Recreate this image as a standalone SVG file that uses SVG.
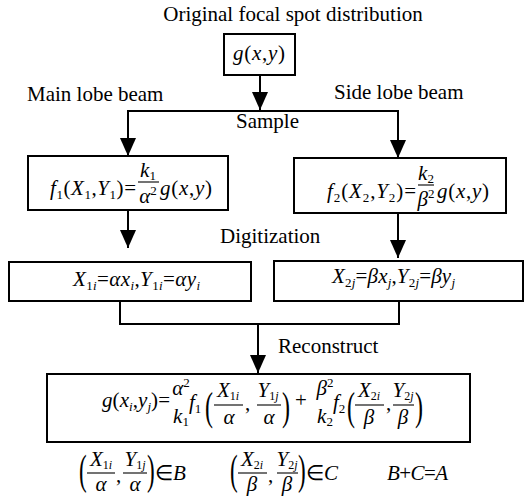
<svg xmlns="http://www.w3.org/2000/svg" width="526" height="499" viewBox="0 0 526 499" font-family="'Liberation Serif', 'Times New Roman', serif">
<style>
text{font-family:"Liberation Serif","Times New Roman",serif;fill:#000}
.lbl{font-size:21px}
.mi{font-size:21px;font-style:italic}
.u{font-style:normal}
.sb{font-size:13px}
.sf{font-size:12px}
.box{fill:#fff;stroke:#000;stroke-width:2}
.ln{fill:none;stroke:#000;stroke-width:2}
.bar{stroke:#000;stroke-width:1.1}
.mid{text-anchor:middle}
</style>
<defs>
<marker id="arr" markerUnits="userSpaceOnUse" markerWidth="18" markerHeight="16" refX="18" refY="8" orient="auto" viewBox="0 0 18 16">
<path d="M0,0 L18,8 L0,16 z" fill="#000"/>
</marker>
</defs>

<g id="labels">
<text class="lbl mid" x="293" y="21">Original focal spot distribution</text>
<text class="lbl" x="27" y="101">Main lobe beam</text>
<text class="lbl" x="334" y="99">Side lobe beam</text>
<text class="lbl" x="236" y="128">Sample</text>
<text class="lbl" x="220" y="243">Digitization</text>
<text class="lbl" x="278" y="353">Reconstruct</text>
</g>

<g id="connectors">
<line class="ln" x1="260" y1="75" x2="260" y2="110" marker-end="url(#arr)"/>
<polyline class="ln" points="128,156 128,111 398,111 398,158"/>
<line class="ln" x1="128" y1="120" x2="128" y2="156" marker-end="url(#arr)"/>
<line class="ln" x1="398" y1="120" x2="398" y2="158" marker-end="url(#arr)"/>
<line class="ln" x1="128" y1="210" x2="128" y2="248" marker-end="url(#arr)"/>
<line class="ln" x1="398" y1="213" x2="398" y2="258" marker-end="url(#arr)"/>
<polyline class="ln" points="120,301 120,324 399,324 399,301"/>
<line class="ln" x1="258" y1="324" x2="258" y2="373" marker-end="url(#arr)"/>
</g>

<g id="node-g">
<rect class="box" x="224" y="34" width="71" height="41"/>
<text class="mi" x="233" y="60" textLength="52">g<tspan class="u">(</tspan>x<tspan class="u">,</tspan>y<tspan class="u">)</tspan></text>
</g>

<g id="node-f1">
<rect class="box" x="28" y="156" width="200" height="54"/>
<text class="mi" x="50" y="195" textLength="86">f<tspan class="u sb" dy="4">1</tspan><tspan class="u" dy="-4">(</tspan>X<tspan class="u sb" dy="4">1</tspan><tspan class="u" dy="-4">,</tspan>Y<tspan class="u sb" dy="4">1</tspan><tspan class="u" dy="-4">)=</tspan></text>
<text class="mi mid" x="148" y="177">k<tspan class="u sb" dy="3">1</tspan></text>
<line class="bar" x1="138" y1="182" x2="159" y2="182"/>
<text class="mi mid" x="148" y="203">α<tspan class="u sb" dy="-8">2</tspan></text>
<text class="mi" x="160" y="195" textLength="52">g<tspan class="u">(</tspan>x<tspan class="u">,</tspan>y<tspan class="u">)</tspan></text>
</g>

<g id="node-f2">
<rect class="box" x="294" y="158" width="212" height="55"/>
<text class="mi" x="327" y="198" textLength="89">f<tspan class="u sb" dy="4">2</tspan><tspan class="u" dy="-4">(</tspan>X<tspan class="u sb" dy="4">2</tspan><tspan class="u" dy="-4">,</tspan>Y<tspan class="u sb" dy="4">2</tspan><tspan class="u" dy="-4">)=</tspan></text>
<text class="mi mid" x="426" y="180">k<tspan class="u sb" dy="3">2</tspan></text>
<line class="bar" x1="418" y1="185" x2="434" y2="185"/>
<text class="mi mid" x="426" y="206">β<tspan class="u sb" dy="-8">2</tspan></text>
<text class="mi" x="437" y="198" textLength="52">g<tspan class="u">(</tspan>x<tspan class="u">,</tspan>y<tspan class="u">)</tspan></text>
</g>

<g id="node-x1">
<rect class="box" x="9" y="262" width="242" height="39"/>
<text class="mi" x="73" y="286" textLength="127">X<tspan class="u sb" dy="4">1</tspan><tspan class="sb">i</tspan><tspan class="u" dy="-4">=</tspan>αx<tspan class="sb" dy="4">i</tspan><tspan class="u" dy="-4">,</tspan>Y<tspan class="u sb" dy="4">1</tspan><tspan class="sb">i</tspan><tspan class="u" dy="-4">=</tspan>αy<tspan class="sb" dy="4">i</tspan></text>
</g>

<g id="node-x2">
<rect class="box" x="274" y="261" width="249" height="40"/>
<text class="mi" x="332" y="283" textLength="123">X<tspan class="u sb" dy="4">2</tspan><tspan class="sb">j</tspan><tspan class="u" dy="-4">=</tspan>βx<tspan class="sb" dy="4">j</tspan><tspan class="u" dy="-4">,</tspan>Y<tspan class="u sb" dy="4">2</tspan><tspan class="sb">j</tspan><tspan class="u" dy="-4">=</tspan>βy<tspan class="sb" dy="4">j</tspan></text>
</g>

<g id="node-recon">
<rect class="box" x="47" y="374" width="423" height="68"/>
<text class="mi" x="102" y="407" textLength="68">g<tspan class="u">(</tspan>x<tspan class="sb" dy="4">i</tspan><tspan class="u" dy="-4">,</tspan>y<tspan class="sb" dy="4">j</tspan><tspan class="u" dy="-4">)=</tspan></text>
<text class="mi mid" x="181" y="395">α<tspan class="u sb" dy="-8">2</tspan></text>
<text class="mi mid" x="181" y="423">k<tspan class="u sb" dy="3">1</tspan></text>
<text class="mi" x="189" y="409">f<tspan class="u sb" dy="4">1</tspan></text>
<text font-size="40" transform="translate(205,420) scale(0.6,1)">(</text>
<text class="mi mid" x="228" y="397">X<tspan class="u sf" dy="3">1</tspan><tspan class="sf">i</tspan></text>
<line class="bar" x1="214" y1="405" x2="243" y2="405"/>
<text class="mi mid" x="229" y="424">α</text>
<text class="lbl" x="245" y="410">,</text>
<text class="mi mid" x="268" y="397">Y<tspan class="u sf" dy="3">1</tspan><tspan class="sf">j</tspan></text>
<line class="bar" x1="257" y1="405" x2="281" y2="405"/>
<text class="mi mid" x="269" y="424">α</text>
<text font-size="40" transform="translate(282,420) scale(0.6,1)">)</text>
<text class="lbl" x="295" y="407">+</text>
<text class="mi mid" x="325" y="395">β<tspan class="u sb" dy="-8">2</tspan></text>
<text class="mi mid" x="325" y="423">k<tspan class="u sb" dy="3">2</tspan></text>
<text class="mi" x="333" y="409">f<tspan class="u sb" dy="4">2</tspan></text>
<text font-size="40" transform="translate(347,420) scale(0.6,1)">(</text>
<text class="mi mid" x="369" y="397">X<tspan class="u sf" dy="3">2</tspan><tspan class="sf">i</tspan></text>
<line class="bar" x1="355" y1="405" x2="384" y2="405"/>
<text class="mi mid" x="369" y="424">β</text>
<text class="lbl" x="386" y="410">,</text>
<text class="mi mid" x="403" y="397">Y<tspan class="u sf" dy="3">2</tspan><tspan class="sf">j</tspan></text>
<line class="bar" x1="393" y1="405" x2="414" y2="405"/>
<text class="mi mid" x="403" y="424">β</text>
<text font-size="40" transform="translate(415,420) scale(0.6,1)">)</text>
</g>

<g id="conditions">
<text font-size="42" transform="translate(79,484) scale(0.55,1)">(</text>
<text class="mi mid" x="101" y="466">X<tspan class="u sf" dy="3">1</tspan><tspan class="sf">i</tspan></text>
<line class="bar" x1="87" y1="473" x2="115" y2="473"/>
<text class="mi mid" x="101" y="491">α</text>
<text class="lbl" x="116" y="482">,</text>
<text class="mi mid" x="135" y="466">Y<tspan class="u sf" dy="3">1</tspan><tspan class="sf">j</tspan></text>
<line class="bar" x1="123" y1="473" x2="147" y2="473"/>
<text class="mi mid" x="135" y="491">α</text>
<text font-size="42" transform="translate(147,484) scale(0.55,1)">)</text>
<text class="mi" x="155" y="480"><tspan class="u">∈</tspan>B</text>

<text font-size="42" transform="translate(230,484) scale(0.55,1)">(</text>
<text class="mi mid" x="252" y="466">X<tspan class="u sf" dy="3">2</tspan><tspan class="sf">i</tspan></text>
<line class="bar" x1="238" y1="473" x2="267" y2="473"/>
<text class="mi mid" x="252" y="491">β</text>
<text class="lbl" x="268" y="482">,</text>
<text class="mi mid" x="287" y="466">Y<tspan class="u sf" dy="3">2</tspan><tspan class="sf">j</tspan></text>
<line class="bar" x1="277" y1="473" x2="298" y2="473"/>
<text class="mi mid" x="287" y="491">β</text>
<text font-size="42" transform="translate(298,484) scale(0.55,1)">)</text>
<text class="mi" x="306" y="480"><tspan class="u">∈</tspan>C</text>

<text class="mi" x="387" y="480" textLength="61">B<tspan class="u">+</tspan>C<tspan class="u">=</tspan>A</text>
</g>
</svg>
